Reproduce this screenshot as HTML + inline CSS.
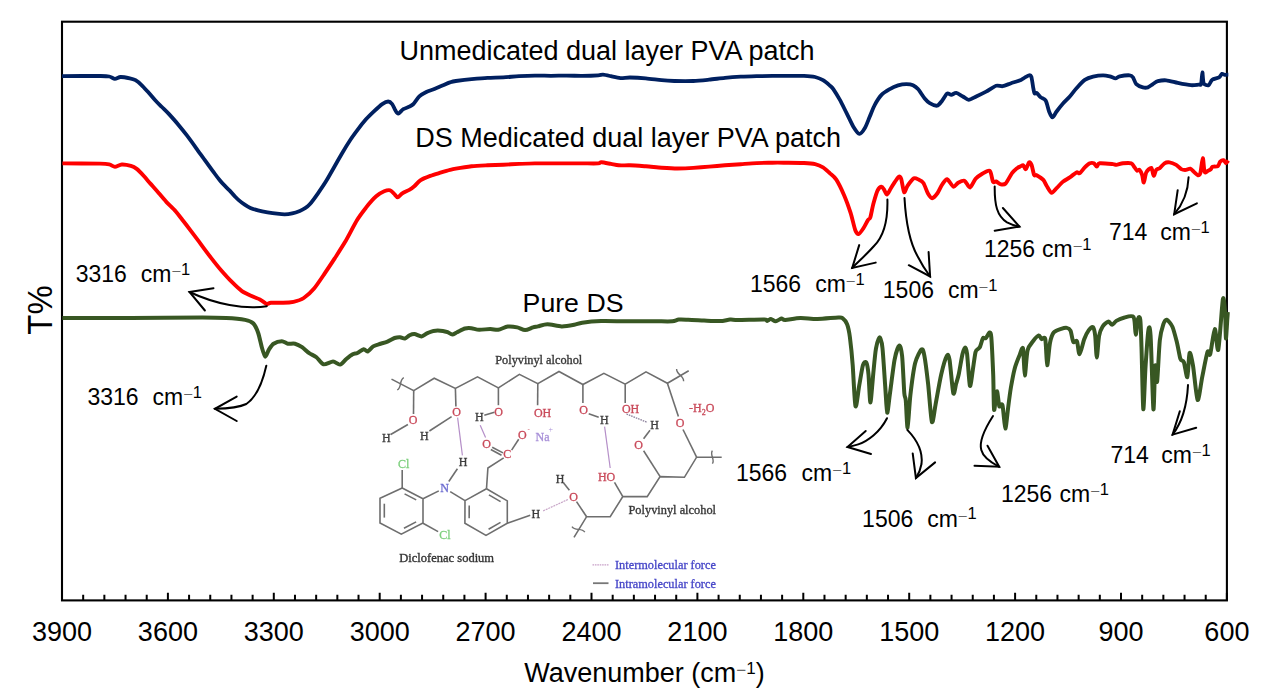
<!DOCTYPE html>
<html><head><meta charset="utf-8"><title>FTIR spectra</title>
<style>html,body{margin:0;padding:0;background:#fff;}body{width:1264px;height:698px;overflow:hidden;}svg{display:block;}</style>
</head><body>
<svg width="1264" height="698" viewBox="0 0 1264 698">
<rect x="62" y="21.7" width="1164.9" height="578.6999999999999" fill="none" stroke="#000" stroke-width="2.1"/>
<path d="M62.00 600.4V592.80M83.18 600.4V594.80M104.36 600.4V594.80M125.54 600.4V594.80M146.72 600.4V594.80M167.90 600.4V592.80M189.08 600.4V594.80M210.26 600.4V594.80M231.44 600.4V594.80M252.62 600.4V594.80M273.80 600.4V592.80M294.98 600.4V594.80M316.16 600.4V594.80M337.34 600.4V594.80M358.52 600.4V594.80M379.70 600.4V592.80M400.88 600.4V594.80M422.06 600.4V594.80M443.24 600.4V594.80M464.42 600.4V594.80M485.60 600.4V592.80M506.78 600.4V594.80M527.96 600.4V594.80M549.14 600.4V594.80M570.32 600.4V594.80M591.50 600.4V592.80M612.68 600.4V594.80M633.86 600.4V594.80M655.04 600.4V594.80M676.22 600.4V594.80M697.40 600.4V592.80M718.58 600.4V594.80M739.76 600.4V594.80M760.94 600.4V594.80M782.12 600.4V594.80M803.30 600.4V592.80M824.48 600.4V594.80M845.66 600.4V594.80M866.84 600.4V594.80M888.02 600.4V594.80M909.20 600.4V592.80M930.38 600.4V594.80M951.56 600.4V594.80M972.74 600.4V594.80M993.92 600.4V594.80M1015.10 600.4V592.80M1036.28 600.4V594.80M1057.46 600.4V594.80M1078.64 600.4V594.80M1099.82 600.4V594.80M1121.00 600.4V592.80M1142.18 600.4V594.80M1163.36 600.4V594.80M1184.54 600.4V594.80M1205.72 600.4V594.80M1226.90 600.4V592.80" stroke="#000" stroke-width="2" fill="none"/>
<text x="62.0" y="641" text-anchor="middle" font-family="Liberation Sans, sans-serif" font-size="27">3900</text>
<text x="167.9" y="641" text-anchor="middle" font-family="Liberation Sans, sans-serif" font-size="27">3600</text>
<text x="273.8" y="641" text-anchor="middle" font-family="Liberation Sans, sans-serif" font-size="27">3300</text>
<text x="379.7" y="641" text-anchor="middle" font-family="Liberation Sans, sans-serif" font-size="27">3000</text>
<text x="485.6" y="641" text-anchor="middle" font-family="Liberation Sans, sans-serif" font-size="27">2700</text>
<text x="591.5" y="641" text-anchor="middle" font-family="Liberation Sans, sans-serif" font-size="27">2400</text>
<text x="697.4" y="641" text-anchor="middle" font-family="Liberation Sans, sans-serif" font-size="27">2100</text>
<text x="803.3" y="641" text-anchor="middle" font-family="Liberation Sans, sans-serif" font-size="27">1800</text>
<text x="909.2" y="641" text-anchor="middle" font-family="Liberation Sans, sans-serif" font-size="27">1500</text>
<text x="1015.1" y="641" text-anchor="middle" font-family="Liberation Sans, sans-serif" font-size="27">1200</text>
<text x="1121.0" y="641" text-anchor="middle" font-family="Liberation Sans, sans-serif" font-size="27">900</text>
<text x="1226.9" y="641" text-anchor="middle" font-family="Liberation Sans, sans-serif" font-size="27">600</text>
<text x="644.5" y="682.3" text-anchor="middle" font-family="Liberation Sans, sans-serif" font-size="27">Wavenumber (cm<tspan font-size="17" dy="-6" fill="#666">−</tspan><tspan font-size="17" dy="-2.1">1</tspan><tspan dy="8.1">)</tspan></text>
<text transform="translate(51.9,310) rotate(-90) scale(0.92,1)" text-anchor="middle" font-family="Liberation Sans, sans-serif" font-size="35.8">T%</text>
<text x="399.4" y="59.8" font-family="Liberation Sans, sans-serif" font-size="27">Unmedicated dual layer PVA patch</text>
<text x="415.2" y="147" font-family="Liberation Sans, sans-serif" font-size="27">DS Medicated dual layer PVA patch</text>
<text x="522.6" y="311.9" font-family="Liberation Sans, sans-serif" font-size="26.7">Pure DS</text>
<path d="M62.0,76.1C67.1,76.1 93.7,75.9 100.0,76.0C106.3,76.1 107.2,76.1 109.2,76.5C111.2,76.9 113.4,78.7 114.9,78.8C116.4,78.9 118.6,77.1 120.6,77.0C122.6,76.9 127.8,77.9 129.8,78.3C131.8,78.7 134.0,79.3 135.5,80.2C137.0,81.1 139.6,83.2 141.3,84.8C143.0,86.4 146.3,90.1 148.1,92.1C149.9,94.1 153.2,98.1 155.0,100.1C156.8,102.1 160.1,105.2 161.9,107.0C163.7,108.8 166.7,111.6 168.8,113.9C170.9,116.2 175.5,121.3 177.9,124.2C180.3,127.1 184.6,132.4 187.1,135.6C189.6,138.8 193.9,144.9 196.3,148.3C198.7,151.7 203.0,157.5 205.4,160.9C207.8,164.3 212.7,170.9 214.6,173.5C216.5,176.1 218.7,178.9 220.0,180.5C221.3,182.1 223.4,184.4 224.7,185.7C226.0,187.0 228.2,189.1 229.5,190.4C230.8,191.7 232.9,194.4 234.2,195.7C235.5,197.0 237.6,199.2 239.0,200.4C240.4,201.6 243.2,203.7 244.7,204.7C246.2,205.7 248.6,207.2 250.4,208.0C252.2,208.8 255.7,209.8 258.0,210.4C260.3,211.0 265.0,211.9 267.5,212.3C270.0,212.7 274.7,213.4 277.0,213.7C279.3,214.0 282.6,214.4 284.6,214.4C286.6,214.4 290.2,213.9 292.2,213.4C294.2,212.9 298.0,211.6 299.8,210.9C301.6,210.2 304.1,208.8 305.5,207.9C306.9,207.0 308.3,205.9 310.0,204.0C311.7,202.1 315.9,196.3 318.0,193.3C320.1,190.3 323.9,184.8 326.0,181.3C328.1,177.8 332.0,170.9 334.1,167.2C336.2,163.5 340.0,156.8 342.1,153.2C344.2,149.6 348.0,143.4 350.1,140.2C352.2,137.0 356.0,131.9 358.1,129.1C360.2,126.3 364.1,121.5 366.2,119.1C368.3,116.7 372.1,113.1 374.2,111.1C376.3,109.1 380.3,105.4 382.2,104.1C384.1,102.8 386.9,101.5 388.2,101.5C389.5,101.5 391.3,103.0 392.2,104.1C393.1,105.2 394.4,108.8 395.2,110.1C396.0,111.4 397.1,113.8 398.2,113.7C399.3,113.6 401.8,110.0 403.3,109.1C404.8,108.2 408.0,107.4 409.3,106.7C410.6,106.0 412.0,105.5 413.3,104.1C414.6,102.7 417.6,98.0 419.3,96.4C421.0,94.8 424.3,93.0 426.3,92.0C428.3,91.0 432.2,89.9 434.3,89.0C436.4,88.1 440.3,86.5 442.4,85.6C444.5,84.7 448.2,83.0 450.0,82.4C451.8,81.8 452.9,81.4 455.8,81.0C458.7,80.6 467.4,79.5 471.6,79.1C475.8,78.7 483.3,78.0 487.5,77.8C491.7,77.6 499.1,77.5 503.3,77.3C507.5,77.1 514.9,76.4 519.1,76.2C523.3,76.0 530.7,75.7 534.9,75.6C539.1,75.5 546.6,75.8 550.8,75.8C555.0,75.8 562.4,75.6 566.6,75.6C570.8,75.6 578.2,75.9 582.4,75.9C586.6,75.9 595.5,75.6 598.2,75.4C600.9,75.2 601.3,74.6 603.0,74.7C604.7,74.8 608.6,75.7 610.9,76.2C613.2,76.7 617.9,77.9 620.4,78.1C622.9,78.3 626.5,77.5 629.9,77.5C633.3,77.5 641.6,77.9 645.8,78.3C650.0,78.7 657.8,79.8 661.6,80.2C665.4,80.6 670.1,80.9 674.3,81.0C678.5,81.1 688.7,81.2 693.3,81.0C697.9,80.8 704.9,80.1 709.1,79.7C713.3,79.3 720.7,78.2 724.9,77.8C729.1,77.4 736.6,76.9 740.8,76.7C745.0,76.5 752.4,76.3 756.6,76.2C760.8,76.1 768.2,75.9 772.4,75.9C776.6,75.9 784.0,75.9 788.2,75.9C792.4,75.9 800.4,75.8 804.0,75.9C807.6,76.0 812.6,76.4 815.1,77.0C817.6,77.6 821.0,79.0 823.0,80.2C825.0,81.4 828.6,84.5 830.0,85.7C831.4,86.9 832.0,87.2 833.3,89.1C834.6,91.0 838.1,96.7 839.9,99.9C841.7,103.1 844.8,109.6 846.6,113.1C848.4,116.6 851.5,123.6 853.2,126.4C854.9,129.2 857.9,133.7 859.5,133.9C861.1,134.1 863.5,130.4 864.9,128.1C866.3,125.8 868.5,119.6 869.8,116.5C871.1,113.4 873.2,107.7 874.8,104.8C876.4,101.9 879.5,97.0 881.5,94.9C883.5,92.8 887.6,90.4 889.8,89.1C892.0,87.8 895.9,86.1 898.1,85.4C900.3,84.7 904.4,84.1 906.4,84.1C908.4,84.1 911.5,84.5 913.0,85.2C914.5,85.9 916.4,87.3 918.0,89.1C919.6,90.9 923.1,96.6 924.7,98.5C926.3,100.4 928.0,102.2 929.7,103.2C931.4,104.2 935.4,106.0 937.1,105.7C938.8,105.4 940.8,102.3 942.1,100.7C943.4,99.1 945.9,94.3 947.1,93.5C948.3,92.7 950.1,95.0 951.3,94.9C952.5,94.8 954.7,92.7 956.2,92.9C957.7,93.1 961.2,95.6 962.9,96.5C964.6,97.4 966.9,99.9 968.7,99.9C970.5,99.9 973.9,97.6 976.2,96.5C978.5,95.4 983.4,93.0 986.1,91.6C988.8,90.2 993.9,86.4 996.1,85.7C998.3,85.0 1000.7,86.5 1002.7,86.2C1004.7,85.9 1008.7,84.0 1011.1,83.2C1013.5,82.4 1019.1,80.7 1021.0,79.9C1022.9,79.1 1023.9,78.0 1025.0,77.4C1026.1,76.8 1028.3,75.4 1029.1,75.3C1029.9,75.2 1030.7,74.9 1031.3,76.6C1031.9,78.3 1032.9,85.9 1033.3,88.2C1033.7,90.5 1034.2,92.9 1034.6,93.5C1035.0,94.1 1035.8,92.4 1036.6,92.9C1037.4,93.4 1039.6,96.4 1040.8,97.4C1042.0,98.4 1044.7,98.8 1045.8,100.7C1046.9,102.6 1048.2,109.3 1049.1,111.5C1050.0,113.7 1051.4,117.3 1052.4,117.3C1053.4,117.3 1055.2,113.4 1056.6,111.5C1058.0,109.6 1061.4,105.2 1063.2,103.2C1065.0,101.2 1068.0,98.5 1069.8,96.5C1071.6,94.5 1074.5,90.4 1076.5,88.2C1078.5,86.0 1082.6,81.4 1084.8,79.9C1087.0,78.4 1090.7,77.2 1093.1,76.6C1095.5,76.0 1100.9,75.3 1103.1,75.3C1105.3,75.3 1108.0,75.9 1109.7,76.3C1111.4,76.7 1114.2,78.3 1115.5,78.3C1116.8,78.3 1117.8,76.7 1119.7,76.3C1121.6,75.9 1127.9,75.2 1129.7,75.3C1131.5,75.4 1132.1,76.2 1133.0,77.4C1133.9,78.6 1135.0,82.8 1136.3,84.1C1137.6,85.4 1141.4,87.0 1142.9,87.4C1144.4,87.8 1146.6,87.8 1147.9,87.4C1149.2,87.0 1151.6,84.9 1152.9,84.1C1154.2,83.3 1156.1,81.7 1157.9,81.2C1159.7,80.7 1163.5,80.1 1166.2,80.3C1168.9,80.5 1174.5,82.2 1177.8,82.9C1181.1,83.6 1188.3,85.0 1191.1,85.2C1193.9,85.4 1197.3,84.7 1198.6,84.6C1199.9,84.5 1200.6,85.7 1201.1,84.1C1201.6,82.5 1202.1,72.5 1202.4,72.4C1202.7,72.3 1202.9,81.5 1203.7,83.2C1204.5,84.9 1207.5,85.7 1208.6,85.2C1209.7,84.7 1210.8,80.8 1212.2,79.8C1213.6,78.8 1217.8,78.2 1219.1,77.4C1220.4,76.6 1221.2,74.2 1222.0,73.9C1222.8,73.6 1224.0,74.8 1224.8,74.9C1225.6,75.0 1227.8,74.6 1228.3,74.6" fill="none" stroke="#002060" stroke-width="3.8" stroke-linejoin="round" stroke-linecap="butt"/>
<path d="M62.4,163.4C67.4,163.4 93.8,163.5 100.0,163.6C106.2,163.7 107.2,163.9 109.2,164.3C111.2,164.7 113.2,166.8 114.9,166.8C116.6,166.8 119.7,164.6 121.8,164.5C123.9,164.4 128.9,165.3 130.9,165.9C132.9,166.5 135.0,167.6 136.7,168.9C138.4,170.2 141.8,173.8 143.6,175.8C145.4,177.8 148.3,181.2 150.4,183.6C152.5,186.0 157.5,191.6 159.6,194.1C161.7,196.6 164.4,199.8 166.5,202.1C168.6,204.4 173.5,208.9 175.6,211.3C177.7,213.7 180.5,217.5 182.5,220.0C184.5,222.5 187.9,226.9 190.3,230.1C192.7,233.3 197.9,240.1 200.6,243.8C203.3,247.5 208.1,254.0 210.9,257.6C213.7,261.2 218.5,267.3 221.3,270.5C224.1,273.7 228.9,279.0 231.6,281.7C234.3,284.4 239.2,289.2 241.9,291.1C244.6,293.0 249.8,295.2 252.2,296.3C254.6,297.4 258.3,298.6 259.9,299.4C261.5,300.2 263.3,301.7 264.2,302.3C265.1,302.9 265.9,303.9 266.8,304.0C267.7,304.1 268.9,303.0 271.1,302.8C273.3,302.6 280.1,302.9 283.1,302.8C286.1,302.7 290.7,302.4 293.5,301.8C296.3,301.2 301.1,299.8 303.8,298.0C306.5,296.2 311.4,291.7 314.1,288.5C316.8,285.3 321.7,277.9 324.4,273.9C327.1,269.9 332.0,262.6 334.7,258.4C337.4,254.2 342.0,247.2 345.0,242.1C348.0,237.0 354.3,224.6 357.1,220.0C359.9,215.4 363.7,210.6 366.2,207.4C368.7,204.2 373.8,198.4 376.2,196.3C378.6,194.2 382.3,192.1 384.2,191.3C386.1,190.5 388.9,190.0 390.2,190.3C391.5,190.6 393.2,193.0 394.2,193.9C395.2,194.8 396.7,197.4 397.8,197.3C398.9,197.2 400.8,194.3 402.3,193.3C403.8,192.3 407.7,190.8 409.3,189.9C410.9,189.0 412.8,187.6 414.3,186.3C415.8,185.0 418.2,181.7 420.3,180.3C422.4,178.9 427.6,176.9 430.3,175.9C433.0,174.9 437.8,173.5 440.4,172.7C443.0,171.9 447.9,170.4 450.0,169.9C452.1,169.4 452.9,169.2 455.8,168.7C458.7,168.2 467.4,166.8 471.6,166.3C475.8,165.8 483.3,165.5 487.5,165.3C491.7,165.1 499.1,164.9 503.3,164.7C507.5,164.5 514.9,164.1 519.1,163.9C523.3,163.7 530.7,163.5 534.9,163.4C539.1,163.3 546.6,163.4 550.8,163.4C555.0,163.4 562.4,163.4 566.6,163.4C570.8,163.4 578.2,163.4 582.4,163.4C586.6,163.4 595.7,163.5 598.2,163.4C600.7,163.3 599.7,162.2 601.4,162.3C603.1,162.4 608.6,163.5 610.9,163.9C613.2,164.3 616.3,165.1 618.8,165.3C621.3,165.5 626.3,165.2 629.9,165.3C633.5,165.4 641.6,166.0 645.8,166.3C650.0,166.6 657.4,167.4 661.6,167.7C665.8,168.0 673.3,168.5 677.5,168.5C681.7,168.5 689.1,168.2 693.3,167.9C697.5,167.6 704.9,166.9 709.1,166.6C713.3,166.3 720.7,165.6 724.9,165.3C729.1,165.0 736.6,164.5 740.8,164.2C745.0,163.9 752.4,163.3 756.6,163.1C760.8,162.9 768.2,162.8 772.4,162.7C776.6,162.6 784.0,162.7 788.2,162.7C792.4,162.7 800.4,162.8 804.0,163.0C807.6,163.2 812.6,163.6 815.1,164.2C817.6,164.8 821.0,166.2 823.0,167.4C825.0,168.6 828.2,171.8 830.0,173.4C831.8,175.0 834.4,176.7 836.3,179.6C838.2,182.5 842.3,191.0 844.2,195.4C846.1,199.8 849.1,208.2 850.6,212.8C852.1,217.4 854.2,227.4 855.3,230.2C856.4,233.0 857.4,234.3 858.5,234.1C859.6,233.9 861.9,230.5 863.2,228.6C864.5,226.7 867.1,221.4 868.0,219.9C868.9,218.4 869.6,219.7 870.3,217.5C871.0,215.3 872.5,206.9 873.5,203.3C874.5,199.7 876.4,192.8 877.5,190.6C878.6,188.4 880.6,186.9 881.4,186.7C882.2,186.5 883.1,188.0 883.8,189.1C884.5,190.2 886.1,194.7 887.0,194.6C887.9,194.5 889.8,190.0 890.9,188.3C892.0,186.6 893.8,183.4 894.9,181.9C896.0,180.4 898.0,177.1 898.8,176.7C899.6,176.3 900.5,176.7 901.2,178.8C901.9,180.9 903.3,191.3 904.1,192.2C904.9,193.1 906.2,187.8 907.5,185.9C908.8,184.0 912.4,179.1 913.9,178.3C915.4,177.5 917.3,179.0 918.6,179.6C919.9,180.2 922.1,181.1 923.4,183.0C924.7,184.9 926.9,191.8 928.1,193.8C929.3,195.8 930.8,198.3 932.1,198.2C933.4,198.1 936.2,194.9 937.6,193.0C939.0,191.1 941.0,186.1 942.3,184.3C943.6,182.5 945.6,178.9 947.1,179.2C948.6,179.5 951.9,186.2 953.4,186.7C954.9,187.2 956.7,183.5 958.2,182.7C959.7,181.9 962.9,180.2 964.5,180.8C966.1,181.4 968.5,187.8 970.0,187.5C971.5,187.2 974.0,180.6 975.6,178.8C977.2,177.0 980.0,175.1 981.9,174.0C983.8,172.9 988.3,169.8 989.8,170.9C991.3,172.0 992.2,180.5 993.0,181.9C993.8,183.3 995.0,181.2 996.1,181.5C997.2,181.8 999.6,184.0 1000.9,184.3C1002.2,184.6 1004.1,185.0 1005.6,183.5C1007.1,182.0 1010.5,175.2 1012.0,173.2C1013.5,171.2 1015.6,169.4 1016.7,168.5C1017.8,167.6 1019.1,167.0 1020.0,166.6C1020.9,166.2 1022.5,165.0 1023.3,165.3C1024.1,165.6 1025.0,169.5 1025.8,169.1C1026.6,168.7 1028.3,163.0 1029.1,162.4C1029.9,161.8 1030.9,163.2 1031.6,164.9C1032.3,166.6 1033.4,173.5 1034.1,174.9C1034.8,176.3 1035.4,174.5 1036.6,175.2C1037.8,175.9 1042.0,178.5 1043.3,179.9C1044.6,181.3 1045.5,184.0 1046.6,185.7C1047.7,187.4 1050.3,192.5 1051.6,192.8C1052.9,193.1 1055.1,189.7 1056.6,188.2C1058.1,186.7 1061.4,182.9 1063.2,181.5C1065.0,180.1 1068.0,178.6 1069.8,177.4C1071.6,176.2 1075.2,173.0 1076.5,172.4C1077.8,171.8 1078.7,173.9 1079.8,173.2C1080.9,172.5 1083.5,168.7 1084.8,167.4C1086.1,166.1 1088.6,163.8 1089.8,163.3C1091.0,162.8 1093.0,162.9 1093.9,163.3C1094.8,163.7 1096.0,166.6 1096.8,166.6C1097.6,166.6 1097.5,163.6 1099.7,163.3C1101.9,163.0 1110.8,163.9 1113.0,164.1C1115.2,164.3 1115.1,165.0 1116.4,164.9C1117.7,164.8 1121.0,163.5 1123.0,163.3C1125.0,163.1 1129.8,162.8 1131.3,163.3C1132.8,163.8 1133.8,166.4 1134.6,167.4C1135.4,168.4 1136.4,170.4 1137.1,170.7C1137.8,171.0 1138.9,169.3 1139.6,169.9C1140.3,170.5 1141.5,173.2 1142.1,174.9C1142.7,176.6 1143.2,182.7 1143.8,182.4C1144.4,182.1 1145.3,174.3 1146.3,172.4C1147.3,170.5 1150.3,167.5 1151.3,167.9C1152.3,168.3 1153.0,175.4 1153.7,175.7C1154.4,176.0 1155.4,170.9 1156.2,169.9C1157.0,168.9 1158.5,169.1 1159.6,168.2C1160.7,167.3 1163.2,164.1 1164.5,163.3C1165.8,162.5 1167.9,162.2 1169.5,162.4C1171.1,162.6 1174.6,164.0 1176.2,164.9C1177.8,165.8 1179.9,168.4 1181.2,169.1C1182.5,169.8 1184.9,170.0 1186.1,169.9C1187.3,169.8 1189.2,168.3 1190.3,168.6C1191.4,168.9 1193.4,171.5 1194.4,172.4C1195.4,173.3 1197.0,175.1 1197.8,175.2C1198.6,175.3 1199.6,175.5 1200.3,173.2C1201.0,170.9 1202.2,158.4 1202.8,158.2C1203.4,158.0 1203.9,170.1 1204.6,171.8C1205.3,173.5 1207.2,171.1 1208.0,170.8C1208.8,170.5 1209.9,170.1 1210.5,169.6C1211.1,169.1 1211.5,167.3 1212.5,166.8C1213.5,166.3 1216.9,166.9 1217.9,166.2C1218.9,165.5 1219.4,162.4 1220.2,161.6C1221.0,160.8 1222.8,160.0 1223.6,160.2C1224.4,160.4 1225.4,163.2 1226.0,163.2C1226.6,163.2 1228.0,160.9 1228.3,160.5" fill="none" stroke="#ff0000" stroke-width="3.9" stroke-linejoin="round" stroke-linecap="butt"/>
<path d="M62.4,318.0C71.6,318.0 112.5,318.1 131.2,318.0C149.9,317.9 189.7,317.5 202.4,317.5C215.1,317.5 220.5,317.7 226.2,318.0C231.9,318.3 241.5,319.2 245.1,319.9C248.7,320.6 251.7,321.8 253.4,323.5C255.1,325.2 257.1,329.8 258.2,333.0C259.3,336.2 260.9,344.0 261.8,347.2C262.7,350.4 264.4,356.4 265.3,356.7C266.2,357.0 267.8,351.3 268.9,349.6C270.0,347.9 271.9,344.8 273.6,343.7C275.3,342.6 280.0,341.3 281.9,341.3C283.8,341.3 286.2,343.4 287.9,343.7C289.6,344.0 293.1,343.2 295.0,343.7C296.9,344.2 300.2,345.9 302.1,347.2C304.0,348.5 307.3,351.9 309.2,353.2C311.1,354.5 314.5,355.7 316.4,357.2C318.3,358.7 321.3,363.7 323.5,364.3C325.7,364.9 330.8,361.5 333.0,361.5C335.2,361.5 338.2,364.9 340.0,364.6C341.8,364.3 344.6,360.4 346.3,359.0C348.0,357.6 351.2,355.1 352.7,354.3C354.2,353.5 355.9,353.7 357.4,353.0C358.9,352.3 362.3,349.4 363.7,349.2C365.1,349.0 366.4,351.9 367.7,351.5C369.0,351.1 371.6,347.4 373.2,346.4C374.8,345.4 377.7,344.6 379.6,344.0C381.5,343.4 385.5,342.4 387.5,341.6C389.5,340.8 392.9,338.6 394.6,338.0C396.3,337.4 398.7,337.1 400.1,337.2C401.5,337.3 403.6,338.8 404.9,338.5C406.2,338.2 408.3,335.9 409.6,335.3C410.9,334.7 412.8,334.0 414.4,334.1C416.0,334.2 419.8,336.5 421.5,336.4C423.2,336.3 425.4,334.1 427.0,333.4C428.6,332.7 431.3,331.2 433.4,330.9C435.5,330.6 440.9,330.7 442.8,330.9C444.7,331.1 446.3,331.7 447.6,332.2C448.9,332.7 451.0,334.5 452.3,334.5C453.6,334.5 455.4,333.0 457.1,332.2C458.8,331.4 463.1,329.0 465.0,328.5C466.9,328.0 469.4,328.0 471.3,328.2C473.2,328.4 476.7,329.7 479.2,329.8C481.7,329.9 487.8,329.0 490.3,329.0C492.8,329.0 495.9,330.1 498.2,329.8C500.5,329.5 505.2,326.9 507.7,326.6C510.2,326.3 514.9,326.9 517.2,327.4C519.5,327.9 523.0,330.1 525.1,330.1C527.2,330.1 531.3,327.9 533.0,327.4C534.7,326.9 536.0,326.8 537.9,326.4C539.8,326.0 544.2,324.3 547.4,324.3C550.6,324.3 558.0,326.3 561.6,326.4C565.2,326.5 571.6,325.3 574.3,324.8C577.0,324.3 578.6,323.2 582.2,322.7C585.8,322.2 595.5,321.3 601.2,321.1C606.9,320.9 619.6,321.3 624.9,321.3C630.2,321.3 636.6,321.3 640.8,321.3C645.0,321.3 652.4,321.3 656.6,321.3C660.8,321.3 669.5,321.5 672.4,321.3C675.3,321.1 676.6,319.8 678.7,319.6C680.8,319.4 684.8,319.6 688.2,319.7C691.6,319.8 699.8,320.3 704.0,320.5C708.2,320.7 716.4,321.2 719.9,321.1C723.4,321.0 727.6,319.8 730.0,319.6C732.4,319.4 733.1,319.9 737.7,319.9C742.3,319.9 760.4,319.3 764.3,319.4C768.2,319.5 766.2,321.0 767.1,320.9C768.0,320.8 769.8,318.9 770.9,319.0C772.0,319.1 774.3,321.4 775.7,321.3C777.1,321.2 780.1,318.8 781.4,318.6C782.7,318.4 782.7,320.0 785.2,319.9C787.7,319.8 796.1,318.1 800.4,318.0C804.7,317.9 812.4,319.1 817.5,319.0C822.6,318.9 835.0,317.6 838.3,317.5C841.6,317.4 841.3,317.2 842.5,318.1C843.7,319.0 846.1,321.6 847.1,324.2C848.1,326.8 849.2,331.8 849.9,337.3C850.6,342.8 852.0,356.0 852.7,365.2C853.4,374.4 854.6,403.5 855.5,406.2C856.4,408.9 858.2,391.2 859.2,385.7C860.2,380.2 862.0,368.3 862.9,365.2C863.8,362.1 865.6,361.2 866.3,362.4C867.0,363.6 868.0,369.2 868.5,374.5C869.0,379.8 869.8,402.4 870.4,402.4C871.0,402.4 872.5,381.7 873.2,374.5C873.9,367.3 875.1,353.4 876.0,348.4C876.9,343.4 878.8,337.3 879.7,337.3C880.6,337.3 881.8,341.7 882.5,348.4C883.2,355.1 884.7,378.9 885.3,387.5C885.9,396.1 886.6,412.0 887.2,412.7C887.8,413.4 889.0,400.2 890.0,393.1C891.0,386.0 893.4,365.9 894.6,359.6C895.8,353.3 898.3,346.1 899.3,345.6C900.3,345.1 901.4,349.6 902.1,355.9C902.8,362.2 903.8,387.1 904.3,393.1C904.8,399.1 905.4,396.0 905.8,400.6C906.2,405.2 907.0,428.3 907.6,427.6C908.2,426.9 909.4,403.6 910.4,395.0C911.4,386.4 913.6,369.4 915.1,363.3C916.6,357.2 920.4,350.4 921.6,349.4C922.8,348.4 923.5,351.3 924.4,355.9C925.3,360.5 927.1,375.0 928.1,383.8C929.1,392.6 930.9,419.3 931.9,422.0C932.9,424.7 934.4,410.6 935.6,404.3C936.8,398.0 939.7,381.0 941.2,374.5C942.7,368.0 945.7,357.9 946.8,355.9C947.9,353.9 948.6,354.6 949.5,359.6C950.4,364.6 952.4,389.9 953.3,393.1C954.2,396.3 955.4,386.3 956.1,383.8C956.8,381.3 957.8,378.5 958.7,374.5C959.6,370.5 961.6,357.6 962.5,354.0C963.4,350.4 964.6,347.5 965.2,347.5C965.8,347.5 966.5,348.9 967.1,354.0C967.7,359.1 969.2,383.5 969.9,385.7C970.6,387.9 972.0,375.3 972.7,370.8C973.4,366.3 974.8,355.1 975.5,352.2C976.2,349.3 977.7,349.5 978.3,348.8C978.9,348.1 979.5,348.0 980.1,346.6C980.7,345.2 982.2,339.3 982.9,338.2C983.6,337.1 984.8,338.9 985.7,338.2C986.6,337.5 988.8,332.7 989.5,332.6C990.2,332.5 990.8,331.7 991.3,337.3C991.8,342.9 992.8,364.8 993.2,374.5C993.6,384.2 993.6,407.7 994.1,409.9C994.6,412.1 996.2,391.8 996.9,391.3C997.6,390.8 998.6,404.3 999.3,406.2C1000.0,408.1 1001.7,402.2 1002.5,405.2C1003.3,408.2 1004.6,428.1 1005.3,428.5C1006.0,428.9 1007.4,413.5 1008.1,408.0C1008.8,402.5 1010.0,392.7 1010.9,387.5C1011.8,382.3 1013.5,373.1 1014.6,368.9C1015.7,364.7 1018.2,358.6 1019.3,355.9C1020.4,353.2 1022.3,345.8 1023.0,348.4C1023.7,351.0 1024.2,375.1 1024.8,375.4C1025.4,375.7 1026.5,354.9 1027.6,350.3C1028.7,345.7 1031.7,343.0 1033.2,341.0C1034.7,339.0 1037.7,335.7 1038.8,335.4C1039.9,335.1 1040.7,338.6 1041.6,339.1C1042.5,339.6 1044.6,335.6 1045.3,339.1C1046.0,342.6 1046.6,364.7 1047.2,365.2C1047.8,365.7 1049.1,347.1 1050.0,342.8C1050.9,338.5 1052.2,334.5 1053.7,332.6C1055.2,330.7 1059.5,329.5 1061.2,328.9C1062.9,328.3 1065.6,327.7 1066.8,327.9C1068.0,328.1 1069.6,328.8 1070.5,330.7C1071.4,332.6 1072.4,340.5 1073.3,341.9C1074.2,343.3 1076.2,339.7 1077.0,341.3C1077.8,342.9 1078.6,354.5 1079.6,354.2C1080.6,353.9 1083.0,342.5 1084.2,339.3C1085.4,336.1 1087.6,331.7 1088.8,330.1C1090.0,328.5 1092.0,326.3 1092.9,327.1C1093.8,327.9 1094.7,331.7 1095.2,335.8C1095.7,339.9 1096.3,357.6 1096.8,357.6C1097.3,357.6 1098.3,339.9 1099.1,335.8C1099.9,331.7 1101.3,328.6 1102.5,326.7C1103.7,324.8 1106.9,321.9 1108.2,321.6C1109.5,321.3 1111.0,324.9 1112.1,324.8C1113.2,324.7 1114.8,321.8 1116.3,320.9C1117.8,320.0 1120.8,318.5 1123.1,318.0C1125.4,317.5 1131.8,314.8 1133.5,317.0C1135.2,319.2 1135.1,334.5 1135.7,334.7C1136.3,334.9 1137.4,320.7 1138.0,318.7C1138.6,316.7 1139.8,316.0 1140.3,319.8C1140.8,323.6 1141.1,335.4 1141.5,347.3C1141.9,359.2 1142.8,406.8 1143.3,409.2C1143.8,411.6 1144.9,376.1 1145.6,365.6C1146.3,355.1 1147.7,334.1 1148.4,330.1C1149.1,326.1 1149.9,325.3 1150.6,335.8C1151.3,346.3 1152.8,405.2 1153.4,409.2C1154.0,413.2 1154.7,369.3 1155.2,365.6C1155.7,361.9 1156.5,385.1 1157.1,381.7C1157.7,378.3 1159.0,348.0 1159.8,340.4C1160.6,332.8 1162.4,327.1 1163.3,324.4C1164.2,321.7 1165.5,319.5 1166.7,319.8C1167.9,320.1 1171.0,323.6 1172.4,326.7C1173.8,329.8 1175.9,338.4 1177.0,342.7C1178.1,347.0 1179.5,356.2 1180.4,358.8C1181.3,361.4 1183.0,359.8 1183.9,362.2C1184.8,364.6 1186.5,378.3 1187.3,377.1C1188.1,375.9 1188.8,354.5 1189.6,353.0C1190.4,351.5 1191.9,359.3 1193.0,365.6C1194.1,371.9 1196.4,398.5 1197.6,400.0C1198.8,401.5 1200.9,383.5 1202.2,377.1C1203.5,370.7 1206.4,355.0 1207.5,351.9C1208.6,348.8 1209.2,357.3 1210.2,354.2C1211.2,351.1 1213.7,329.6 1214.8,329.0C1215.9,328.4 1217.2,353.6 1218.3,349.6C1219.4,345.6 1222.0,304.1 1222.9,299.2C1223.8,294.3 1224.7,307.7 1225.1,312.9C1225.5,318.1 1225.6,337.8 1225.9,338.5C1226.2,339.2 1227.1,321.5 1227.4,318.0C1227.7,314.5 1227.7,312.8 1227.8,312.0" fill="none" stroke="#385723" stroke-width="4.0" stroke-linejoin="round" stroke-linecap="butt"/>
<text x="75.7" y="281.9" font-family="Liberation Sans, sans-serif" font-size="23">3316</text><text x="140.8" y="281.9" font-family="Liberation Sans, sans-serif" font-size="23">cm<tspan font-size="16.5" dy="-5.0" fill="#666">−</tspan><tspan font-size="16.5" dy="-2.1">1</tspan></text>
<text x="87.5" y="405.4" font-family="Liberation Sans, sans-serif" font-size="23">3316</text><text x="152.5" y="405.4" font-family="Liberation Sans, sans-serif" font-size="23">cm<tspan font-size="16.5" dy="-5.0" fill="#666">−</tspan><tspan font-size="16.5" dy="-2.1">1</tspan></text>
<text x="749.9" y="291.6" font-family="Liberation Sans, sans-serif" font-size="23">1566</text><text x="815.2" y="291.6" font-family="Liberation Sans, sans-serif" font-size="23">cm<tspan font-size="16.5" dy="-5.0" fill="#666">−</tspan><tspan font-size="16.5" dy="-2.1">1</tspan></text>
<text x="882.8" y="297.9" font-family="Liberation Sans, sans-serif" font-size="23">1506</text><text x="947.9" y="297.9" font-family="Liberation Sans, sans-serif" font-size="23">cm<tspan font-size="16.5" dy="-5.0" fill="#666">−</tspan><tspan font-size="16.5" dy="-2.1">1</tspan></text>
<text x="984.0" y="256.8" font-family="Liberation Sans, sans-serif" font-size="23">1256</text><text x="1042.0" y="256.8" font-family="Liberation Sans, sans-serif" font-size="23">cm<tspan font-size="16.5" dy="-5.0" fill="#666">−</tspan><tspan font-size="16.5" dy="-2.1">1</tspan></text>
<text x="1108.9" y="239.9" font-family="Liberation Sans, sans-serif" font-size="23">714</text><text x="1160.3" y="239.9" font-family="Liberation Sans, sans-serif" font-size="23">cm<tspan font-size="16.5" dy="-5.0" fill="#666">−</tspan><tspan font-size="16.5" dy="-2.1">1</tspan></text>
<text x="736.0" y="480.8" font-family="Liberation Sans, sans-serif" font-size="23">1566</text><text x="801.6" y="480.8" font-family="Liberation Sans, sans-serif" font-size="23">cm<tspan font-size="16.5" dy="-5.0" fill="#666">−</tspan><tspan font-size="16.5" dy="-2.1">1</tspan></text>
<text x="862.1" y="526.5" font-family="Liberation Sans, sans-serif" font-size="23">1506</text><text x="927.2" y="526.5" font-family="Liberation Sans, sans-serif" font-size="23">cm<tspan font-size="16.5" dy="-5.0" fill="#666">−</tspan><tspan font-size="16.5" dy="-2.1">1</tspan></text>
<text x="1001.0" y="502.4" font-family="Liberation Sans, sans-serif" font-size="23">1256</text><text x="1059.5" y="502.4" font-family="Liberation Sans, sans-serif" font-size="23">cm<tspan font-size="16.5" dy="-5.0" fill="#666">−</tspan><tspan font-size="16.5" dy="-2.1">1</tspan></text>
<text x="1110.5" y="462.7" font-family="Liberation Sans, sans-serif" font-size="23">714</text><text x="1161.3" y="462.7" font-family="Liberation Sans, sans-serif" font-size="23">cm<tspan font-size="16.5" dy="-5.0" fill="#666">−</tspan><tspan font-size="16.5" dy="-2.1">1</tspan></text>
<path d="M266.8,306.2 C245,310 215,304 189.5,292" fill="none" stroke="#000" stroke-width="2" stroke-linecap="round"/><path d="M213.5,288.2 L189.5,292 L204.9,310.5" fill="none" stroke="#000" stroke-width="2" stroke-linecap="round" stroke-linejoin="miter"/>
<path d="M266.3,365.7 C262,385 255,398 246.3,404 C238,408 228,408.5 214.9,408.8" fill="none" stroke="#000" stroke-width="2" stroke-linecap="round"/><path d="M236.7,396.6 L214.9,408.8 L236.7,421" fill="none" stroke="#000" stroke-width="2" stroke-linecap="round" stroke-linejoin="miter"/>
<path d="M887.4,199.6 C888,222 884,236 874,246 C866,255 858,262 852.2,268" fill="none" stroke="#000" stroke-width="2" stroke-linecap="round"/><path d="M859.2,245.1 L852.2,268 L875.7,262.6" fill="none" stroke="#000" stroke-width="2" stroke-linecap="round" stroke-linejoin="miter"/>
<path d="M904.5,198.1 C906,225 911,245 918,257 C922,265 926,271 930.1,276.5" fill="none" stroke="#000" stroke-width="2" stroke-linecap="round"/><path d="M908.8,265.2 L930.1,276.5 L928.6,252" fill="none" stroke="#000" stroke-width="2" stroke-linecap="round" stroke-linejoin="miter"/>
<path d="M994.7,186.5 C994.5,205 997,216 1007,222.4 C1011,224.5 1015,225.8 1019.4,226.6" fill="none" stroke="#000" stroke-width="2" stroke-linecap="round"/><path d="M1002.9,208 L1019.4,226.6 L994.7,230.7" fill="none" stroke="#000" stroke-width="2" stroke-linecap="round" stroke-linejoin="miter"/>
<path d="M1188.6,177.2 C1188,192 1183,204 1174.2,214.2" fill="none" stroke="#000" stroke-width="2" stroke-linecap="round"/><path d="M1177.7,190.2 L1174.2,214.2 L1196.9,203.3" fill="none" stroke="#000" stroke-width="2" stroke-linecap="round" stroke-linejoin="miter"/>
<path d="M887,418.2 C880,432 868,441 858.2,444.4 C854,445.8 851,446.5 847.5,447" fill="none" stroke="#000" stroke-width="2" stroke-linecap="round"/><path d="M865.7,431 L847.5,447 L871,454" fill="none" stroke="#000" stroke-width="2" stroke-linecap="round" stroke-linejoin="miter"/>
<path d="M907.3,429.9 C918,441 923,452 921.5,464 C920.5,470 918.5,474 915.9,478" fill="none" stroke="#000" stroke-width="2" stroke-linecap="round"/><path d="M912.7,453.4 L915.9,478 L935.1,462.4" fill="none" stroke="#000" stroke-width="2" stroke-linecap="round" stroke-linejoin="miter"/>
<path d="M993,416 C984,430 979,442 981.3,450 C983,457 990,462 999.2,466.8" fill="none" stroke="#000" stroke-width="2" stroke-linecap="round"/><path d="M987.5,445.7 L999.2,466.8 L974.5,465.8" fill="none" stroke="#000" stroke-width="2" stroke-linecap="round" stroke-linejoin="miter"/>
<path d="M1188,385.1 C1187,405 1183,421 1172.6,434.6" fill="none" stroke="#000" stroke-width="2" stroke-linecap="round"/><path d="M1179.8,411.3 L1172.6,434.6 L1196.2,427.8" fill="none" stroke="#000" stroke-width="2" stroke-linecap="round" stroke-linejoin="miter"/>
<defs><filter id="bl" x="-5%" y="-5%" width="110%" height="110%"><feGaussianBlur stdDeviation="0.4"/></filter></defs>
<g filter="url(#bl)">
<path d="M391.5,379.1 L413.7,390.6 L434.2,378.2 L455.4,388.4 L477.5,376.8 L498.4,387.9 L519.4,374.4 L537.8,383.7 L559,371.5 L582.9,384.5 L603.9,373.4 L625.2,384.2 L646,371.8 L667.4,383.3 L688.7,370.8" fill="none" stroke="#6e6e6e" stroke-width="1.6" stroke-linejoin="miter"/>
<path d="M397.2,390.0 C402.1,387.3 398.9,380.3 403.8,377.6" fill="none" stroke="#6e6e6e" stroke-width="1.4"/>
<path d="M676.6,369.0 C676.3,374.6 683.9,375.6 683.6,381.2" fill="none" stroke="#6e6e6e" stroke-width="1.4"/>
<path d="M413.7,390.6 L413.5,414.0" fill="none" stroke="#6e6e6e" stroke-width="1.6" stroke-linejoin="miter"/>
<text x="413.2" y="424.2" text-anchor="middle" font-family="Liberation Serif, serif" font-size="12" fill="#c94a5a" stroke="#c94a5a" stroke-width="0.3">O</text>
<path d="M407.9,424.5 L390.7,434.5" fill="none" stroke="#6e6e6e" stroke-width="1.6" stroke-linejoin="miter"/>
<text x="386.4" y="442.1" text-anchor="middle" font-family="Liberation Serif, serif" font-size="12" fill="#3a3a3a" stroke="#3a3a3a" stroke-width="0.3">H</text>
<path d="M455.4,388.4 L455.9,406.4" fill="none" stroke="#6e6e6e" stroke-width="1.6" stroke-linejoin="miter"/>
<text x="456.6" y="416.3" text-anchor="middle" font-family="Liberation Serif, serif" font-size="12" fill="#c94a5a" stroke="#c94a5a" stroke-width="0.3">O</text>
<path d="M451.6,416.6 L429.4,431" fill="none" stroke="#6e6e6e" stroke-width="1.6" stroke-linejoin="miter"/>
<text x="424.4" y="440.0" text-anchor="middle" font-family="Liberation Serif, serif" font-size="12" fill="#3a3a3a" stroke="#3a3a3a" stroke-width="0.3">H</text>
<path d="M457.6,417.6 L462.4,455.3" fill="none" stroke="#b58fc8" stroke-width="1.2" stroke-linejoin="miter"/>
<path d="M498.4,387.9 L498.4,405.2" fill="none" stroke="#6e6e6e" stroke-width="1.6" stroke-linejoin="miter"/>
<text x="498.7" y="415.6" text-anchor="middle" font-family="Liberation Serif, serif" font-size="12" fill="#c94a5a" stroke="#c94a5a" stroke-width="0.3">O</text>
<path d="M484.3,415.2 L494.4,412.3" fill="none" stroke="#6e6e6e" stroke-width="1.6" stroke-linejoin="miter"/>
<text x="479.3" y="421.3" text-anchor="middle" font-family="Liberation Serif, serif" font-size="12" fill="#3a3a3a" stroke="#3a3a3a" stroke-width="0.3">H</text>
<path d="M480.2,425.2 L485.6,437.6" fill="none" stroke="#b58fc8" stroke-width="1.2" stroke-linejoin="miter"/>
<path d="M537.8,383.7 L537.6,405.2" fill="none" stroke="#6e6e6e" stroke-width="1.6" stroke-linejoin="miter"/>
<text x="542.6" y="417.0" text-anchor="middle" font-family="Liberation Serif, serif" font-size="12" fill="#c94a5a" stroke="#c94a5a" stroke-width="0.3">OH</text>
<path d="M582.9,384.5 L582.9,403" fill="none" stroke="#6e6e6e" stroke-width="1.6" stroke-linejoin="miter"/>
<text x="583.6" y="413.5" text-anchor="middle" font-family="Liberation Serif, serif" font-size="12" fill="#c94a5a" stroke="#c94a5a" stroke-width="0.3">O</text>
<path d="M588.7,413.8 L598.7,417.3" fill="none" stroke="#6e6e6e" stroke-width="1.6" stroke-linejoin="miter"/>
<text x="604.4" y="424.2" text-anchor="middle" font-family="Liberation Serif, serif" font-size="12" fill="#3a3a3a" stroke="#3a3a3a" stroke-width="0.3">H</text>
<path d="M604.6,426.7 L610.2,468" fill="none" stroke="#b58fc8" stroke-width="1.2" stroke-linejoin="miter"/>
<path d="M625.2,384.2 L625.2,403" fill="none" stroke="#6e6e6e" stroke-width="1.6" stroke-linejoin="miter"/>
<text x="630.6" y="412.8" text-anchor="middle" font-family="Liberation Serif, serif" font-size="12" fill="#c94a5a" stroke="#c94a5a" stroke-width="0.3">OH</text>
<path d="M626.5,414 L647.4,422.4" fill="none" stroke="#8a7f9a" stroke-width="1.3" stroke-linejoin="miter" stroke-dasharray="1.6,0.9"/>
<text x="654.5" y="429.2" text-anchor="middle" font-family="Liberation Serif, serif" font-size="12" fill="#3a3a3a" stroke="#3a3a3a" stroke-width="0.3">H</text>
<path d="M650,430.2 L643.6,438.8" fill="none" stroke="#6e6e6e" stroke-width="1.6" stroke-linejoin="miter"/>
<text x="638.6" y="449.0" text-anchor="middle" font-family="Liberation Serif, serif" font-size="12" fill="#c94a5a" stroke="#c94a5a" stroke-width="0.3">O</text>
<path d="M667.4,383.3 L678.4,416.6" fill="none" stroke="#6e6e6e" stroke-width="1.6" stroke-linejoin="miter"/>
<text x="680.1" y="427.1" text-anchor="middle" font-family="Liberation Serif, serif" font-size="12" fill="#c94a5a" stroke="#c94a5a" stroke-width="0.3">O</text>
<path d="M683,429.5 L696.6,457.2" fill="none" stroke="#6e6e6e" stroke-width="1.6" stroke-linejoin="miter"/>
<text x="689" y="412" font-family="Liberation Serif, serif" font-size="12" fill="#c94a5a" stroke="#c94a5a" stroke-width="0.3">-H<tspan font-size="8" dy="3">2</tspan><tspan dy="-3">O</tspan></text>
<path d="M721.7,457.2 L696.6,457.2 L684.4,477.3 L660.1,476.6 L647.2,496.6 L622.8,496.6 L610.2,516.7 L586.6,516.7 L574,537.3" fill="none" stroke="#6e6e6e" stroke-width="1.6" stroke-linejoin="miter"/>
<path d="M712.4,450.7 C709.4,455.0 715.4,459.4 712.4,463.7" fill="none" stroke="#6e6e6e" stroke-width="1.4"/>
<path d="M572.0,526.6 C575.0,531.2 581.8,527.6 584.8,532.2" fill="none" stroke="#6e6e6e" stroke-width="1.4"/>
<path d="M660.1,476.6 L643.6,450.8" fill="none" stroke="#6e6e6e" stroke-width="1.6" stroke-linejoin="miter"/>
<path d="M622.8,496.6 L614.5,482.3" fill="none" stroke="#6e6e6e" stroke-width="1.6" stroke-linejoin="miter"/>
<text x="606.6" y="481.3" text-anchor="middle" font-family="Liberation Serif, serif" font-size="12" fill="#c94a5a" stroke="#c94a5a" stroke-width="0.3">HO</text>
<path d="M586.6,516.7 L576.5,501.6" fill="none" stroke="#6e6e6e" stroke-width="1.6" stroke-linejoin="miter"/>
<text x="573.7" y="500.6" text-anchor="middle" font-family="Liberation Serif, serif" font-size="12" fill="#c94a5a" stroke="#c94a5a" stroke-width="0.3">O</text>
<path d="M569.4,490.2 L563.6,483" fill="none" stroke="#6e6e6e" stroke-width="1.6" stroke-linejoin="miter"/>
<text x="560.1" y="482.7" text-anchor="middle" font-family="Liberation Serif, serif" font-size="12" fill="#3a3a3a" stroke="#3a3a3a" stroke-width="0.3">H</text>
<path d="M567.9,499.5 L543.1,510.9" fill="none" stroke="#c8a6c8" stroke-width="1.2" stroke-linejoin="miter" stroke-dasharray="2,0.8"/>
<text x="495.3" y="364.3" font-family="Liberation Serif, serif" font-size="12" fill="#3a3a3a" stroke="#3a3a3a" stroke-width="0.35" textLength="86.9" lengthAdjust="spacingAndGlyphs">Polyvinyl alcohol</text>
<text x="628.5" y="514.4" font-family="Liberation Serif, serif" font-size="12" fill="#3a3a3a" stroke="#3a3a3a" stroke-width="0.35" textLength="87.5" lengthAdjust="spacingAndGlyphs">Polyvinyl alcohol</text>
<text x="399.3" y="562" font-family="Liberation Serif, serif" font-size="12.5" fill="#333" stroke="#333" stroke-width="0.35" textLength="94.8" lengthAdjust="spacingAndGlyphs">Diclofenac sodium</text>
<text x="486.5" y="448.3" text-anchor="middle" font-family="Liberation Serif, serif" font-size="12" fill="#c94a5a" stroke="#c94a5a" stroke-width="0.3">O</text>
<text x="507.3" y="458.4" text-anchor="middle" font-family="Liberation Serif, serif" font-size="12" fill="#c94a5a" stroke="#c94a5a" stroke-width="0.3">C</text>
<path d="M492.2,447.2 L503,452.9" fill="none" stroke="#6e6e6e" stroke-width="1.6" stroke-linejoin="miter"/>
<path d="M490.8,449.5 L501.5,455.3" fill="none" stroke="#6e6e6e" stroke-width="1.6" stroke-linejoin="miter"/>
<path d="M511.6,450.1 L518.7,439.3" fill="none" stroke="#6e6e6e" stroke-width="1.6" stroke-linejoin="miter"/>
<text x="522.3" y="439.0" text-anchor="middle" font-family="Liberation Serif, serif" font-size="12" fill="#c94a5a" stroke="#c94a5a" stroke-width="0.3">O</text>
<text x="527.6" y="431" font-family="Liberation Serif, serif" font-size="7" fill="#c94a5a">-</text>
<text x="535.5" y="440.8" font-family="Liberation Serif, serif" font-size="12" fill="#a890d8" stroke="#a890d8" stroke-width="0.3">Na</text>
<text x="548.6" y="432" font-family="Liberation Serif, serif" font-size="8" fill="#a890d8">+</text>
<path d="M503.7,457.9 L487.9,468 L486.5,488.7" fill="none" stroke="#6e6e6e" stroke-width="1.6" stroke-linejoin="miter"/>
<path d="M486.5,488.7 L507.3,500.9 L507.3,523.2 L486,535.4 L464.9,523.2 L465,500.6 L486.5,488.7" fill="none" stroke="#6e6e6e" stroke-width="1.6" stroke-linejoin="miter"/>
<path d="M488.9293333333333,494.824 L500.57733333333334,501.656" fill="none" stroke="#6e6e6e" stroke-width="1.6" stroke-linejoin="miter"/>
<path d="M500.51733333333334,522.424 L488.58933333333334,529.2560000000001" fill="none" stroke="#6e6e6e" stroke-width="1.6" stroke-linejoin="miter"/>
<path d="M469.1653333333333,518.248 L469.22133333333335,505.592" fill="none" stroke="#6e6e6e" stroke-width="1.6" stroke-linejoin="miter"/>
<path d="M507.3,523.2 L530.2,515.2" fill="none" stroke="#6e6e6e" stroke-width="1.6" stroke-linejoin="miter"/>
<text x="535.9" y="517.8" text-anchor="middle" font-family="Liberation Serif, serif" font-size="12" fill="#3a3a3a" stroke="#3a3a3a" stroke-width="0.3">H</text>
<text x="444.6" y="492.0" text-anchor="middle" font-family="Liberation Serif, serif" font-size="12" fill="#6c6cd0" stroke="#6c6cd0" stroke-width="0.3">N</text>
<path d="M423,498.7 L438.8,490.9" fill="none" stroke="#6e6e6e" stroke-width="1.6" stroke-linejoin="miter"/>
<path d="M450.2,491.6 L465,500.6" fill="none" stroke="#6e6e6e" stroke-width="1.6" stroke-linejoin="miter"/>
<path d="M448.8,481.5 L457.4,468.7" fill="none" stroke="#6e6e6e" stroke-width="1.6" stroke-linejoin="miter"/>
<text x="463.1" y="465.8" text-anchor="middle" font-family="Liberation Serif, serif" font-size="12" fill="#3a3a3a" stroke="#3a3a3a" stroke-width="0.3">H</text>
<path d="M402.2,488 L423,498.7 L423,523 L401.3,534.2 L380,523 L380,498.2 L402.2,488" fill="none" stroke="#6e6e6e" stroke-width="1.6" stroke-linejoin="miter"/>
<path d="M404.57266666666663,493.854 L416.22066666666666,499.846" fill="none" stroke="#6e6e6e" stroke-width="1.6" stroke-linejoin="miter"/>
<path d="M416.11266666666666,521.914 L403.96066666666667,528.1859999999999" fill="none" stroke="#6e6e6e" stroke-width="1.6" stroke-linejoin="miter"/>
<path d="M384.31666666666666,517.5939999999999 L384.31666666666666,503.70599999999996" fill="none" stroke="#6e6e6e" stroke-width="1.6" stroke-linejoin="miter"/>
<path d="M402.2,488 L402.2,470" fill="none" stroke="#6e6e6e" stroke-width="1.6" stroke-linejoin="miter"/>
<text x="403.7" y="468.4" text-anchor="middle" font-family="Liberation Serif, serif" font-size="12" fill="#7fd07f" stroke="#7fd07f" stroke-width="0.3">Cl</text>
<path d="M423,523.2 L438.1,531.6" fill="none" stroke="#6e6e6e" stroke-width="1.6" stroke-linejoin="miter"/>
<text x="444.8" y="538.7" text-anchor="middle" font-family="Liberation Serif, serif" font-size="12" fill="#7fd07f" stroke="#7fd07f" stroke-width="0.3">Cl</text>
<path d="M592.5,564.8 L608.5,564.8" fill="none" stroke="#c8a0c8" stroke-width="1.3" stroke-linejoin="miter" stroke-dasharray="1.6,0.8"/>
<path d="M593,583.2 L608.5,583.2" fill="none" stroke="#777" stroke-width="1.8" stroke-linejoin="miter"/>
<text x="615" y="569" font-family="Liberation Serif, serif" font-size="11.8" fill="#4646c8" stroke="#4646c8" stroke-width="0.3" textLength="100.9" lengthAdjust="spacingAndGlyphs">Intermolecular force</text>
<text x="615" y="588" font-family="Liberation Serif, serif" font-size="11.8" fill="#4646c8" stroke="#4646c8" stroke-width="0.3" textLength="100.9" lengthAdjust="spacingAndGlyphs">Intramolecular force</text>
</g>
</svg>
</body></html>
